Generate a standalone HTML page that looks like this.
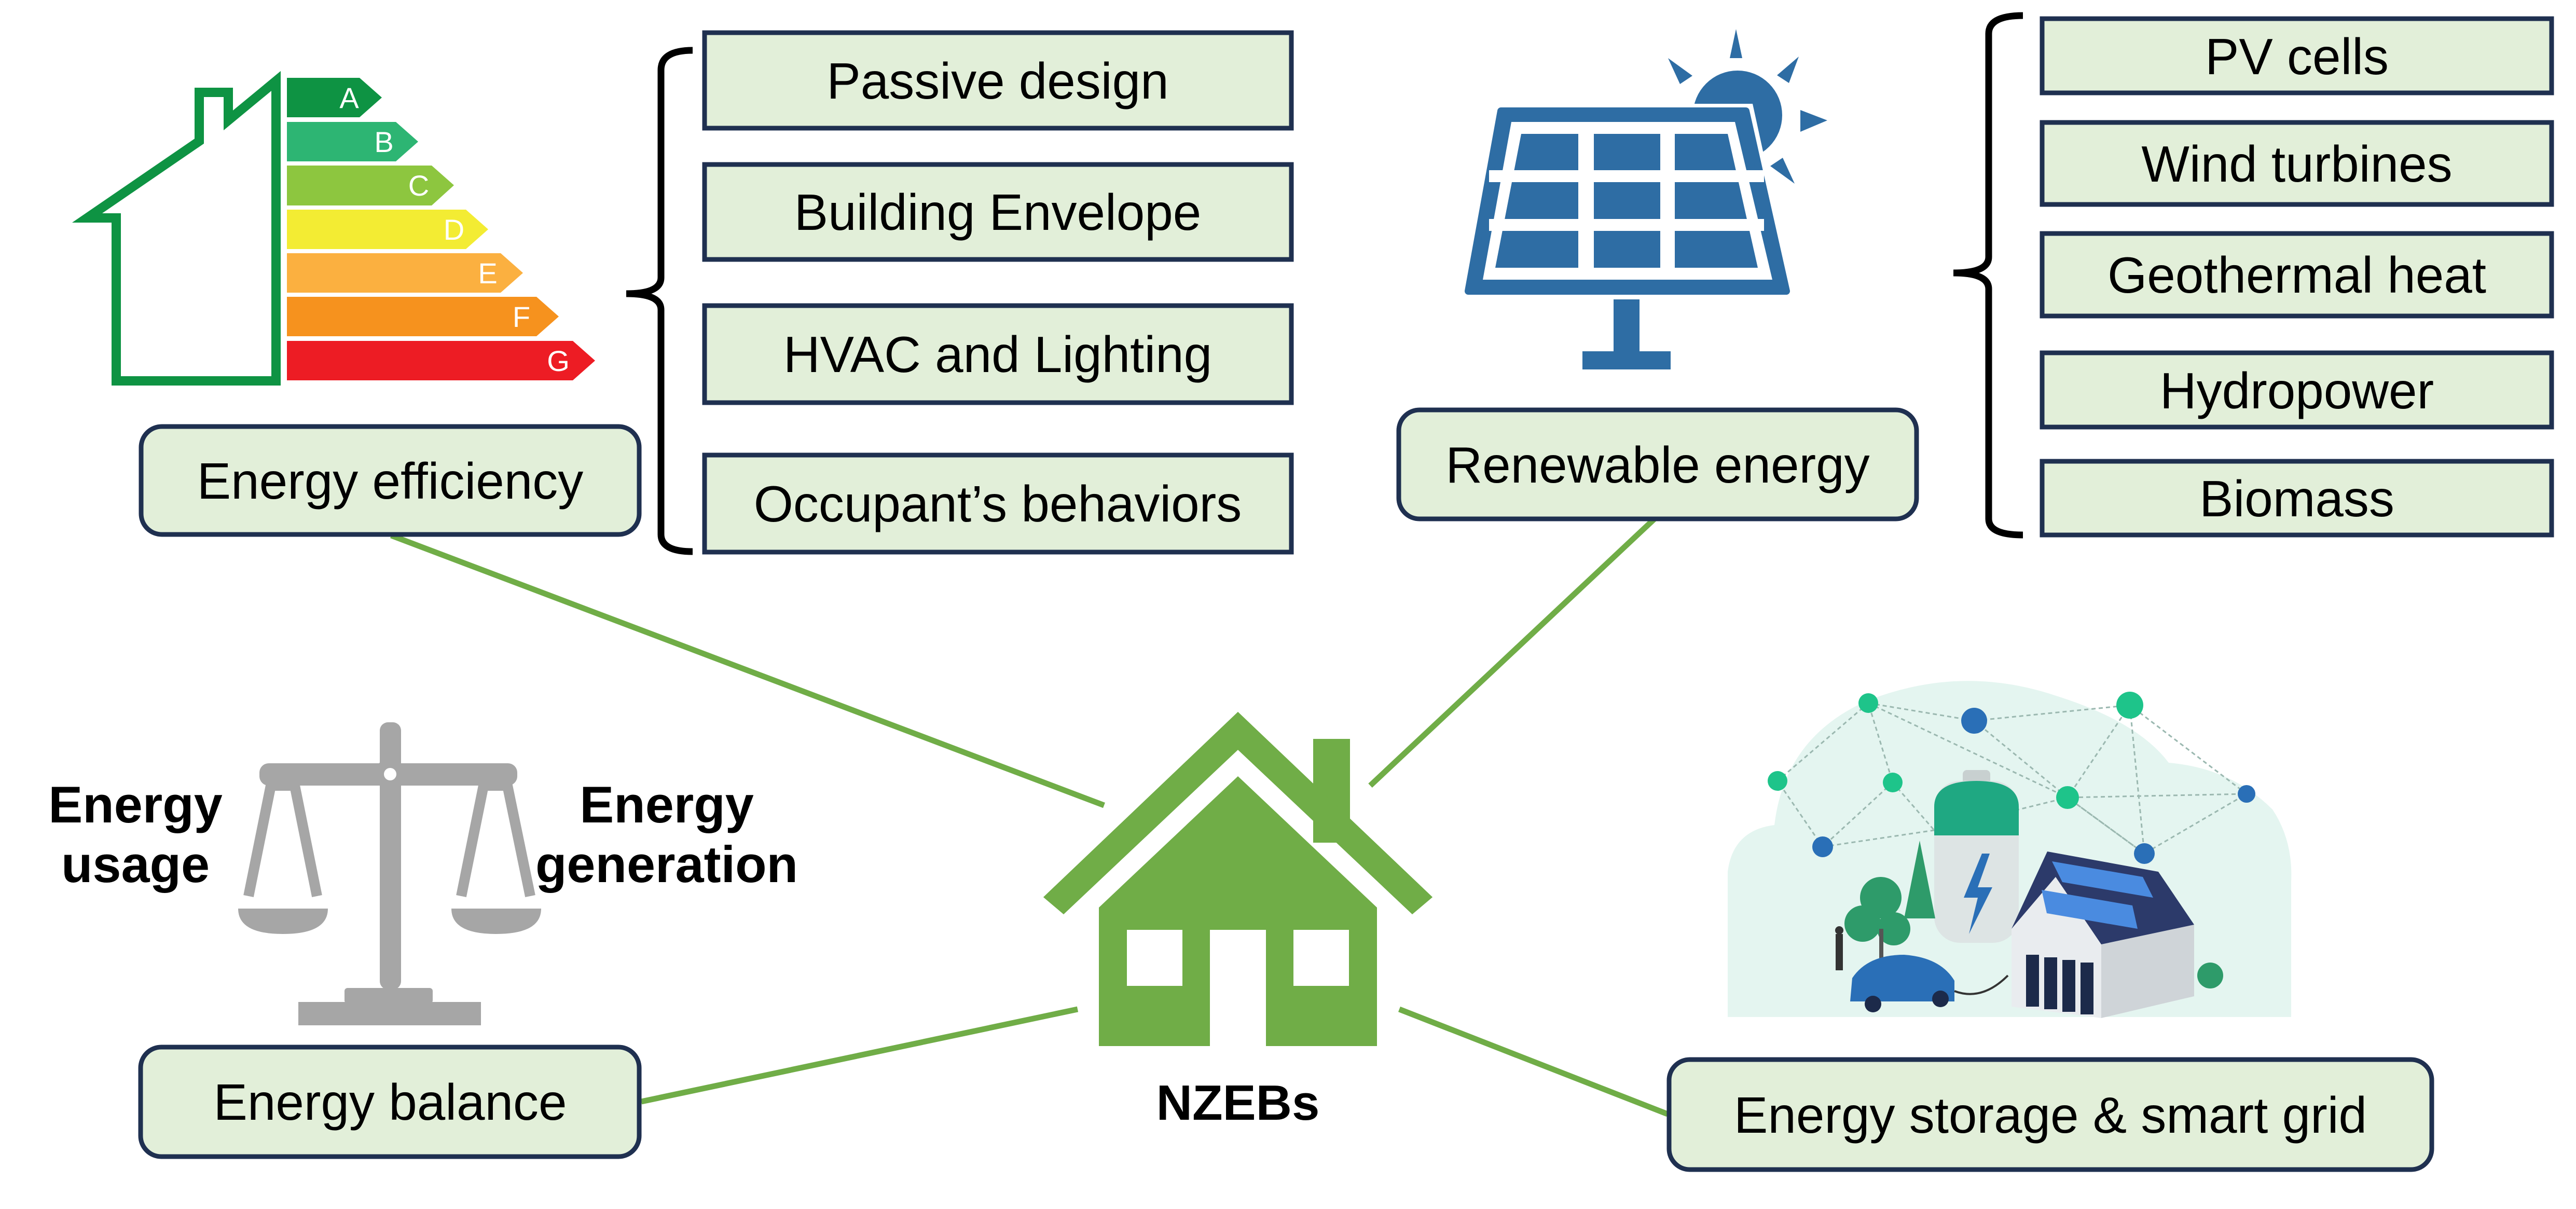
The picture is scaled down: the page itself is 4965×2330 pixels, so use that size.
<!DOCTYPE html>
<html><head><meta charset="utf-8"><style>
html,body{margin:0;padding:0;background:#fff;}
svg{display:block;}
text{font-family:"Liberation Sans",Arial,sans-serif;}
</style></head><body>
<svg width="4965" height="2330" viewBox="0 0 4965 2330" xmlns="http://www.w3.org/2000/svg">
<rect width="4965" height="2330" fill="#fff"/>

<!-- connectors -->
<g stroke="#70ad47" stroke-width="11" fill="none">
<line x1="754" y1="1032" x2="2128" y2="1552"/>
<line x1="3192" y1="997" x2="2641" y2="1514"/>
<line x1="1236" y1="2123" x2="2077" y2="1945"/>
<line x1="2697" y1="1945" x2="3214" y2="2147"/>
</g>

<!-- energy label house -->
<polygon points="224,734 224,420 168,420 384,272 384,178 440,178 440,232 532,156 532,734" fill="none" stroke="#0e9343" stroke-width="18" stroke-linejoin="miter"/>
<g>
<polygon points="553,150 693,150 736,188 693,226 553,226" fill="#0e9343"/>
<polygon points="553,235 763,235 806,273 763,311 553,311" fill="#2db573"/>
<polygon points="553,319 832,319 875,357 832,396 553,396" fill="#8dc63f"/>
<polygon points="553,404 898,404 941,442 898,480 553,480" fill="#f3ec33"/>
<polygon points="553,488 965,488 1008,526 965,564 553,564" fill="#fbb040"/>
<polygon points="553,572 1034,572 1077,610 1034,648 553,648" fill="#f6921e"/>
<polygon points="553,657 1104,657 1147,695 1104,733 553,733" fill="#ed1c24"/>
</g>
<g fill="#fff" font-size="56" text-anchor="middle">
<text x="673" y="208">A</text>
<text x="740" y="293">B</text>
<text x="807" y="377">C</text>
<text x="875" y="462">D</text>
<text x="940" y="546">E</text>
<text x="1005" y="630">F</text>
<text x="1076" y="715">G</text>
</g>

<!-- braces -->
<path d="M1335,97 Q1274,97 1274,135 L1274,535 Q1274,566 1207,566 Q1274,566 1274,597 L1274,1030 Q1274,1063 1335,1063" fill="none" stroke="#000" stroke-width="13"/>
<path d="M3899,30 Q3833,30 3833,65 L3833,495 Q3833,526 3765,526 Q3833,526 3833,557 L3833,1000 Q3833,1031 3899,1031" fill="none" stroke="#000" stroke-width="13"/>

<!-- list boxes -->
<g fill="#e2efd9" stroke="#1f3050" stroke-width="9">
<rect x="1358" y="63" width="1131" height="184"/>
<rect x="1358" y="317" width="1131" height="183"/>
<rect x="1358" y="589" width="1131" height="187"/>
<rect x="1358" y="877" width="1131" height="187"/>
<rect x="3936" y="36" width="982" height="143"/>
<rect x="3936" y="236" width="982" height="158"/>
<rect x="3936" y="450" width="982" height="159"/>
<rect x="3936" y="680" width="982" height="143"/>
<rect x="3936" y="889" width="982" height="142"/>
<rect x="272" y="822" width="960" height="208" rx="40"/>
<rect x="2696" y="790" width="998" height="210" rx="40"/>
<rect x="271" y="2018" width="961" height="211" rx="40"/>
<rect x="3217" y="2042" width="1470" height="212" rx="40"/>
</g>
<g fill="#000" font-size="98" text-anchor="middle">
<text x="1923" y="190">Passive design</text>
<text x="1923" y="443">Building Envelope</text>
<text x="1923" y="717">HVAC and Lighting</text>
<text x="1923" y="1005">Occupant’s behaviors</text>
<text x="4427" y="143">PV cells</text>
<text x="4427" y="350">Wind turbines</text>
<text x="4427" y="564">Geothermal heat</text>
<text x="4427" y="787">Hydropower</text>
<text x="4427" y="995">Biomass</text>
<text x="752" y="961">Energy efficiency</text>
<text x="3195" y="930">Renewable energy</text>
<text x="752" y="2158">Energy balance</text>
<text x="3952" y="2183">Energy storage &amp; smart grid</text>
</g>

<!-- solar panel -->
<g fill="#2e6da4">
<circle cx="3349" cy="222" r="86"/>
<polygon points="3346,56 3358,112 3334,112"/>
<polygon points="3215,112 3262,146 3238,162"/>
<polygon points="3467,109 3448,160 3425,145"/>
<polygon points="3522,232 3470,254 3470,212"/>
<polygon points="3459,354 3412,320 3436,304"/>
</g>
<polygon points="2880,200 3378,200 3460,575 2815,575" fill="#fff"/>
<polygon points="2893,214 3365,214 3443,561 2830,561" fill="#2e6da4" stroke="#2e6da4" stroke-width="14" stroke-linejoin="round"/>
<polygon points="2913,235 3344,235 3416,539 2858,539" fill="#fff"/>
<polygon points="2932,258 3330,258 3388,516 2882,516" fill="#2e6da4"/>
<g fill="#fff">
<rect x="3042" y="250" width="30" height="275"/>
<rect x="3200" y="250" width="28" height="275"/>
<rect x="2870" y="328" width="530" height="23"/>
<rect x="2870" y="422" width="530" height="23"/>
</g>
<rect x="3110" y="577" width="50" height="105" fill="#2e6da4"/>
<rect x="3050" y="677" width="170" height="35" fill="#2e6da4"/>

<!-- scale -->
<g fill="#a6a6a6">
<rect x="732" y="1392" width="41" height="515" rx="16"/>
<rect x="500" y="1471" width="497" height="43" rx="18"/>
<circle cx="752" cy="1492" r="30"/>
<circle cx="752" cy="1492" r="12" fill="#fff"/>
<path d="M459,1751 L632,1751 Q632,1800 545,1800 Q459,1800 459,1751 Z"/>
<path d="M870,1751 L1043,1751 Q1043,1800 956,1800 Q870,1800 870,1751 Z"/>
<rect x="664" y="1904" width="170" height="30" rx="6"/>
<rect x="575" y="1931" width="352" height="45"/>
</g>
<g stroke="#a6a6a6" stroke-width="20" fill="none">
<polyline points="479,1727 522,1514 568,1514 611,1727"/>
<polyline points="889,1727 932,1514 978,1514 1022,1727"/>
</g>
<g font-size="99" font-weight="bold" text-anchor="middle" fill="#000">
<text x="261" y="1585">Energy</text>
<text x="261" y="1700">usage</text>
<text x="1285" y="1585">Energy</text>
<text x="1285" y="1700">generation</text>
</g>

<!-- NZEB house -->
<g fill="#70ad47">
<rect x="2531" y="1424" width="71" height="200"/>
<polygon points="2386,1372 2761,1729 2722,1762 2386,1445 2050,1762 2011,1729"/>
<polygon points="2118,1749 2386,1496 2654,1749 2654,2016 2118,2016"/>
</g>
<polygon points="2386,1372 2761,1729 2722,1762 2386,1445 2050,1762 2011,1729" fill="#70ad47"/>
<g fill="#fff">
<rect x="2332" y="1792" width="108" height="226"/>
<rect x="2172" y="1792" width="107" height="108"/>
<rect x="2493" y="1792" width="107" height="108"/>
</g>
<text x="2386" y="2158" font-size="96" font-weight="bold" text-anchor="middle">NZEBs</text>

<!-- storage illustration -->
<g>
<path d="M3330,1960 L3330,1680 Q3340,1600 3420,1590 Q3440,1420 3600,1350 Q3780,1280 3960,1340 Q4120,1390 4180,1470 Q4300,1480 4380,1560 Q4420,1620 4416,1700 L4416,1960 Z" fill="#e4f5f0"/>
<g stroke="#9bb8b0" stroke-width="3" fill="none" stroke-dasharray="8,6">
<polyline points="3601,1355 3805,1389 4105,1359 4330,1530 4133,1645 3985,1537 3805,1389"/>
<polyline points="3601,1355 3426,1505 3513,1632 3648,1508 3601,1355"/>
<polyline points="3513,1632 3728,1600 3985,1537 4330,1530"/>
<polyline points="4105,1359 3985,1537 4133,1645 4105,1359"/>
<polyline points="3601,1355 3985,1537"/>
<polyline points="3648,1508 3728,1600"/>
</g>
<g fill="#1ec48a">
<circle cx="3601" cy="1355" r="19"/>
<circle cx="4105" cy="1359" r="26"/>
<circle cx="3426" cy="1505" r="19"/>
<circle cx="3648" cy="1508" r="19"/>
<circle cx="3985" cy="1537" r="22"/>
</g>
<g fill="#2a6fb7">
<circle cx="3805" cy="1389" r="25"/>
<circle cx="4330" cy="1530" r="17"/>
<circle cx="3513" cy="1632" r="20"/>
<circle cx="4133" cy="1645" r="20"/>
</g>
<rect x="3783" y="1484" width="53" height="32" rx="8" fill="#c8d0d0"/>
<rect x="3728" y="1505" width="163" height="312" rx="50" fill="#dde4e4"/>
<path d="M3728,1610 L3728,1555 Q3728,1505 3809,1505 Q3891,1505 3891,1555 L3891,1610 Z" fill="#1fa882"/>
<polygon points="3820,1645 3785,1730 3812,1730 3795,1800 3840,1710 3812,1710 3835,1645" fill="#2a6fb7"/>
<g fill="#2e9b6a">
<polygon points="3700,1620 3670,1770 3730,1770"/>
<circle cx="3625" cy="1730" r="40"/>
<circle cx="3590" cy="1780" r="35"/>
<circle cx="3650" cy="1790" r="32"/>
<circle cx="4260" cy="1880" r="25"/>
</g>
<rect x="3622" y="1790" width="8" height="70" fill="#555"/>
<rect x="3538" y="1800" width="14" height="70" fill="#333"/>
<circle cx="3545" cy="1793" r="8" fill="#333"/>
<polygon points="4050,1820 4050,1962 4229,1920 4229,1782" fill="#cfd4d8"/>
<polygon points="3877,1790 3962,1690 4050,1820 4050,1962 3877,1940" fill="#e9ecef"/>
<polygon points="3877,1790 3946,1641 4160,1680 4229,1782 4050,1820 3962,1690" fill="#2c3a6a"/>
<g fill="#4a8be0">
<polygon points="3955,1660 4130,1690 4150,1730 3975,1700"/>
<polygon points="3935,1715 4110,1745 4120,1790 3945,1760"/>
</g>
<g fill="#1c2a4a">
<rect x="3905" y="1840" width="25" height="100"/>
<rect x="3940" y="1845" width="25" height="100"/>
<rect x="3975" y="1850" width="25" height="100"/>
<rect x="4010" y="1855" width="25" height="100"/>
</g>
<path d="M3566,1930 L3570,1885 Q3600,1840 3670,1840 Q3740,1845 3767,1890 L3767,1930 Z" fill="#2a6fb7"/>
<circle cx="3610" cy="1935" r="16" fill="#1c2a4a"/>
<circle cx="3740" cy="1925" r="16" fill="#1c2a4a"/>
<path d="M3767,1910 Q3820,1930 3870,1880" stroke="#333" stroke-width="4" fill="none"/>
</g>
</svg>
</body></html>
